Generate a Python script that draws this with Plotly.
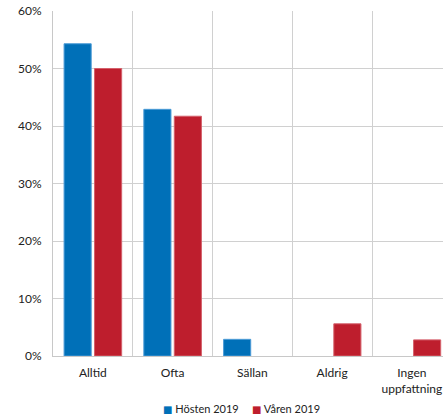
import plotly.graph_objects as go

categories = ["Alltid", "Ofta", "Sällan", "Aldrig", "Ingen<br>uppfattning"]
hosten_2019 = [0.543, 0.429, 0.029, None, None]
varen_2019 = [0.500, 0.417, None, 0.056, 0.028]
series_names = ["Hösten 2019", "Våren 2019"]
y_ticks = [0, 0.1, 0.2, 0.3, 0.4, 0.5, 0.6]

FONT = "Lato"
BLUE = "#0070B8"
RED = "#BE1E2D"
TEXT = "#222222"

fig = go.Figure()
fig.add_trace(go.Bar(
    name=series_names[0], x=categories, y=hosten_2019,
    marker=dict(color=BLUE, line=dict(color="#4A9AD6", width=1)),
))
fig.add_trace(go.Bar(
    name=series_names[1], x=categories, y=varen_2019,
    marker=dict(color=RED, line=dict(color="#D4606B", width=1)),
))

# compact legend row below the axis: small colour square + label
legend_x = [0.277, 0.505]
for name, color, lx in zip(series_names, [BLUE, RED], legend_x):
    fig.add_annotation(
        xref="paper", yref="paper", x=lx, y=-0.1536,
        xanchor="left", yanchor="middle", showarrow=False,
        text=f'<span style="color:{color};font-family:DejaVu Sans;font-size:10px">■</span>'
             f'<span style="font-size:11px"> {name}</span>',
        font=dict(family=FONT, size=11, color=TEXT),
    )

fig.update_layout(
    width=443, height=414, autosize=False,
    margin=dict(l=53, r=0, t=11, b=58, autoexpand=False),
    paper_bgcolor="white", plot_bgcolor="white",
    barmode="group", bargap=0.236, bargroupgap=0.11,
    font=dict(family=FONT, size=12, color=TEXT),
    showlegend=False,
)
fig.update_xaxes(
    type="category", range=[-0.5, 4.39], tickson="boundaries",
    showgrid=True, gridcolor="#D0D0D0", gridwidth=1,
    showline=True, linecolor="#C8C8C8", linewidth=1,
    ticks="", ticklen=0, ticklabelstandoff=6,
    tickfont=dict(family=FONT, size=12, color=TEXT),
)
fig.update_yaxes(
    range=[0, 0.6], tickvals=y_ticks, tickformat=".0%",
    showgrid=True, gridcolor="#D0D0D0", gridwidth=1,
    showline=True, linecolor="#C8C8C8", linewidth=1,
    zeroline=False, ticks="", ticklabelstandoff=8,
    tickfont=dict(family=FONT, size=12, color=TEXT),
)

fig.write_html("out.html")
